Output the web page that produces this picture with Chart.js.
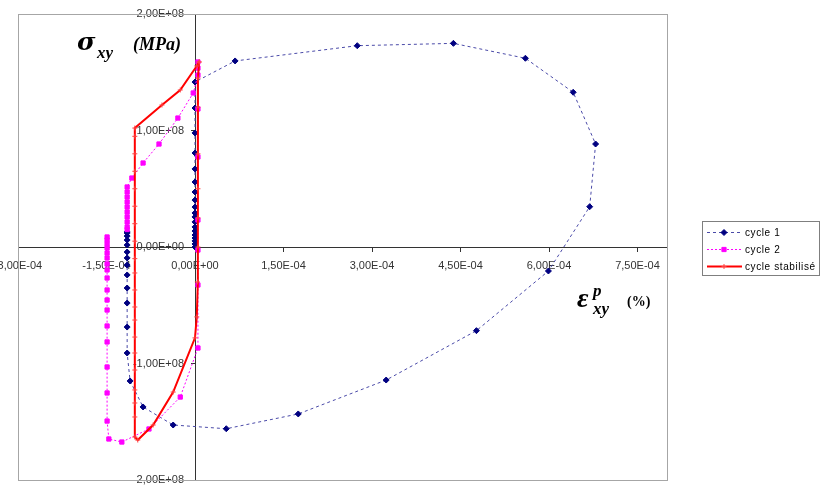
<!DOCTYPE html>
<html>
<head>
<meta charset="utf-8">
<script src="https://cdn.jsdelivr.net/npm/chart.js@4.4.1/dist/chart.umd.min.js"></script>
<style>
  html, body { margin: 0; padding: 0; background: #fff; }
  #wrap { position: relative; width: 823px; height: 492px; }
</style>
</head>
<body>
<div id="wrap"><canvas id="chart" width="823" height="492"></canvas></div>
<script>
// tick values
const xTicks = [-3e-4, -1.5e-4, 0, 1.5e-4, 3e-4, 4.5e-4, 6e-4, 7.5e-4];
const yTicks = [-2e8, -1e8, 0, 1e8, 2e8];

// cycle 1
const cycle1X = [0, 0, 0, 0, 0, 0, 0, 0, 0, 0, 0, 0, 0, 0, 0, 0, 0, 0, 0,
  0.68e-4, 2.75e-4, 4.38e-4, 5.60e-4, 6.41e-4, 6.79e-4, 6.69e-4, 5.99e-4, 4.77e-4, 3.24e-4, 1.75e-4, 0.53e-4,
  -0.37e-4, -0.88e-4, -1.10e-4, -1.15e-4, -1.15e-4, -1.15e-4, -1.15e-4, -1.15e-4, -1.15e-4, -1.15e-4, -1.15e-4,
  -1.15e-4, -1.15e-4, -1.15e-4, -1.15e-4, -1.15e-4];
const cycle1Y = [0, 0.026e8, 0.052e8, 0.077e8, 0.103e8, 0.137e8, 0.172e8, 0.215e8, 0.258e8, 0.292e8, 0.343e8, 0.403e8,
  0.472e8, 0.558e8, 0.67e8, 0.807e8, 0.979e8, 1.193e8, 1.416e8,
  1.597e8, 1.728e8, 1.748e8, 1.62e8, 1.328e8, 0.884e8, 0.346e8, -0.206e8, -0.718e8, -1.142e8, -1.433e8, -1.56e8,
  -1.528e8, -1.373e8, -1.15e8, -0.91e8, -0.687e8, -0.481e8, -0.352e8, -0.24e8, -0.155e8, -0.094e8, -0.043e8,
  0.017e8, 0.06e8, 0.094e8, 0.129e8, 0.12e8];

// cycle 2
const cycle2X = [-1.15e-4, -1.15e-4, -1.15e-4, -1.15e-4, -1.15e-4, -1.15e-4, -1.15e-4, -1.15e-4, -1.15e-4, -1.15e-4,
  -1.07e-4, -0.88e-4, -0.61e-4, -0.29e-4, -0.03e-4, 0.05e-4, 0.05e-4, 0.05e-4,
  0.05e-4, 0.05e-4, 0.05e-4, 0.05e-4, 0.05e-4, 0.05e-4,
  -0.25e-4, -0.78e-4, -1.24e-4, -1.46e-4,
  -1.49e-4, -1.49e-4, -1.49e-4, -1.49e-4, -1.49e-4, -1.49e-4, -1.49e-4, -1.49e-4, -1.49e-4, -1.49e-4, -1.49e-4,
  -1.49e-4, -1.49e-4, -1.49e-4, -1.49e-4, -1.49e-4, -1.49e-4];
const cycle2Y = [0.15e8, 0.172e8, 0.215e8, 0.258e8, 0.3e8, 0.343e8, 0.386e8, 0.429e8, 0.472e8, 0.515e8,
  0.592e8, 0.721e8, 0.884e8, 1.107e8, 1.322e8, 1.476e8, 1.536e8, 1.588e8,
  1.185e8, 0.773e8, 0.232e8, -0.026e8, -0.326e8, -0.867e8,
  -1.288e8, -1.562e8, -1.674e8, -1.648e8,
  -1.494e8, -1.253e8, -1.03e8, -0.815e8, -0.678e8, -0.541e8, -0.455e8, -0.369e8, -0.266e8, -0.197e8, -0.146e8,
  -0.094e8, -0.052e8, -0.009e8, 0.026e8, 0.06e8, 0.086e8];

// cycle stabilisé
const cycle3X = [0.07e-4, 0.05e-4, 0.05e-4, 0.05e-4, 0.05e-4, 0.05e-4, 0.05e-4, 0.04e-4, 0.03e-4, 0,
  -0.37e-4, -0.71e-4, -0.97e-4, -1.02e-4,
  -1.02e-4, -1.02e-4, -1.02e-4, -1.02e-4, -1.02e-4, -1.02e-4, -1.02e-4, -1.02e-4, -1.02e-4, -1.02e-4,
  -1.02e-4, -1.02e-4, -1.02e-4, -1.02e-4, -1.02e-4, -1.02e-4, -1.02e-4, -1.02e-4, -1.02e-4,
  -0.56e-4, -0.25e-4, 0.03e-4, 0.07e-4];
const cycle3Y = [1.588e8, 1.45e8, 1.2e8, 0.8e8, 0.5e8, 0.25e8, 0, -0.3e8, -0.6e8, -0.78e8,
  -1.245e8, -1.528e8, -1.657e8, -1.631e8,
  -1.459e8, -1.339e8, -1.227e8, -1.056e8, -0.91e8, -0.773e8, -0.627e8, -0.515e8, -0.369e8, -0.223e8,
  -0.1e8, 0.05e8, 0.2e8, 0.35e8, 0.5e8, 0.65e8, 0.8e8, 0.95e8, 1.021e8,
  1.219e8, 1.348e8, 1.554e8, 1.588e8];

const seriesNames = ['cycle 1', 'cycle 2', 'cycle stabilisé'];

const toPoints = (xs, ys) => xs.map((x, i) => ({ x, y: ys[i] }));

// Excel style: 1,50E-04
const fmt = (v) => {
  const [m, e] = Number(v).toExponential(2).split('e');
  const sign = e[0] === '-' ? '-' : '+';
  let digits = e.replace(/[+-]/, '');
  if (digits.length < 2) digits = '0' + digits;
  return m.replace('.', ',') + 'E' + sign + digits;
};

// bordure de la zone de tracé
const frame = {
  id: 'frame',
  beforeDatasetsDraw(chart) {
    const { ctx, chartArea: a } = chart;
    ctx.save();
    ctx.strokeStyle = '#a6a6a6';
    ctx.lineWidth = 1;
    ctx.strokeRect(Math.round(a.left) + 0.5, Math.round(a.top) + 0.5, Math.round(a.right - a.left), Math.round(a.bottom - a.top));
    ctx.restore();
  }
};

// titres des axes + légende
const annot = {
  id: 'annot',
  afterDraw(chart) {
    const { ctx } = chart;
    ctx.save();
    ctx.fillStyle = '#000';
    ctx.textBaseline = 'alphabetic';
    ctx.textAlign = 'left';
    // sigma xy (MPa)
    ctx.font = 'bold italic 25px "DejaVu Serif"';
    ctx.fillText('σ', 77, 50);
    ctx.font = 'bold italic 17px "Liberation Serif"';
    ctx.fillText('xy', 97, 58);
    ctx.font = 'bold italic 18px "Liberation Serif"';
    ctx.fillText('(MPa)', 133, 50);
    // epsilon p xy (%)
    ctx.font = 'bold italic 28px "Liberation Serif"';
    ctx.fillText('ε', 577, 307);
    ctx.font = 'bold italic 17px "Liberation Serif"';
    ctx.fillText('p', 593, 296);
    ctx.fillText('xy', 593, 314);
    ctx.font = 'bold 14px "Liberation Serif"';
    ctx.fillText('(%)', 627, 306);

    // légende
    const bx = 702, by = 221, bw = 117, bh = 54;
    ctx.strokeStyle = '#7f7f7f';
    ctx.lineWidth = 1;
    ctx.strokeRect(bx + 0.5, by + 0.5, bw, bh);
    const rows = [232, 249, 266];
    chart.data.datasets.forEach((ds, i) => {
      const y = rows[i];
      ctx.save();
      ctx.strokeStyle = ds.borderColor;
      ctx.lineWidth = ds.borderWidth;
      ctx.setLineDash(ds.borderDash || []);
      ctx.beginPath();
      ctx.moveTo(707, y + 0.5);
      ctx.lineTo(742, y + 0.5);
      ctx.stroke();
      ctx.restore();
      ctx.save();
      ctx.fillStyle = ds.pointBackgroundColor;
      ctx.strokeStyle = ds.pointBorderColor;
      ctx.lineWidth = ds.pointBorderWidth;
      Chart.helpers.drawPoint(ctx, {
        pointStyle: ds.pointStyle,
        radius: ds.pointRadius,
        borderWidth: ds.pointBorderWidth
      }, 724, y + 0.5);
      ctx.restore();
    });
    ctx.fillStyle = '#000';
    ctx.font = '10px "Liberation Sans"';
    ctx.textBaseline = 'middle';
    ctx.letterSpacing = '0.6px';
    seriesNames.forEach((name, i) => ctx.fillText(name, 745, rows[i] + 1));
    ctx.restore();
  }
};

Chart.defaults.font.family = '"Liberation Sans", Arial, sans-serif';
Chart.defaults.font.size = 11;
Chart.defaults.color = '#333';

const axisCommon = {
  type: 'linear',
  grid: { drawOnChartArea: false, drawTicks: true, tickLength: 4, color: '#333' },
  border: { display: true, color: '#333', width: 1 }
};

new Chart(document.getElementById('chart'), {
  type: 'scatter',
  data: {
    datasets: [
      {
        label: seriesNames[0],
        data: toPoints(cycle1X, cycle1Y),
        showLine: true,
        borderColor: '#4a4aa8',
        borderWidth: 1,
        borderDash: [3, 3],
        pointStyle: 'rectRot',
        pointRadius: 3,
        pointBorderWidth: 1,
        pointBackgroundColor: '#000080',
        pointBorderColor: '#000080',
        order: 3
      },
      {
        label: seriesNames[1],
        data: toPoints(cycle2X, cycle2Y),
        showLine: true,
        borderColor: '#ff00ff',
        borderWidth: 1,
        borderDash: [2, 2],
        pointStyle: 'rect',
        pointRadius: 3,
        pointBorderWidth: 1,
        pointBackgroundColor: '#ff00ff',
        pointBorderColor: '#ff00ff',
        order: 2
      },
      {
        label: seriesNames[2],
        data: toPoints(cycle3X, cycle3Y),
        showLine: true,
        borderColor: '#ff0000',
        borderWidth: 2,
        pointStyle: 'cross',
        pointRadius: 2.5,
        pointBorderWidth: 1,
        pointBackgroundColor: '#ff0000',
        pointBorderColor: '#ff4040',
        order: 1
      }
    ]
  },
  options: {
    responsive: false,
    animation: false,
    layout: { padding: { left: 18, right: 156, top: 14, bottom: 12 } },
    plugins: { legend: { display: false }, tooltip: { enabled: false } },
    scales: {
      x: {
        ...axisCommon,
        position: { y: 0 },
        min: -3e-4,
        max: 8e-4,
        afterBuildTicks: (scale) => { scale.ticks = xTicks.map(v => ({ value: v })); },
        afterFit: (scale) => {
          scale.height = 0;
          scale.paddingLeft = 0;
          scale.paddingRight = 0;
        },
        ticks: { autoSkip: false, maxRotation: 0, padding: 8, callback: (v) => fmt(v) }
      },
      y: {
        ...axisCommon,
        position: { x: 0 },
        min: -2e8,
        max: 2e8,
        afterBuildTicks: (scale) => { scale.ticks = yTicks.map(v => ({ value: v })); },
        afterFit: (scale) => {
          scale.width = 0;
          scale.paddingTop = 0;
          scale.paddingBottom = 0;
        },
        // les étiquettes sont collées à l'axe : on décale avec deux espaces
        ticks: { autoSkip: false, callback: (v) => fmt(v) + '\u2002\u2002' }
      }
    }
  },
  plugins: [frame, annot]
});
</script>
</body>
</html>
